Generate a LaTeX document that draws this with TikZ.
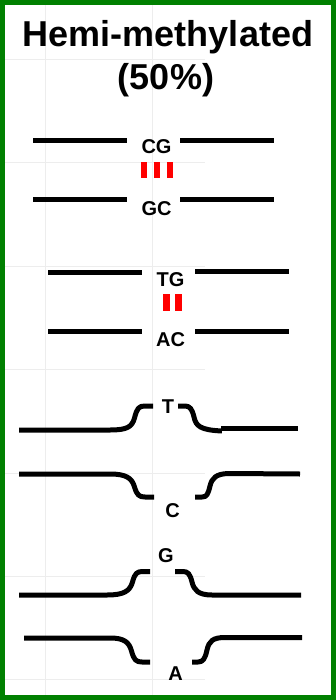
\documentclass[tikz,border=0pt]{standalone}
\usepackage{fontspec}
\setmainfont{Liberation Sans}
\begin{document}
\begin{tikzpicture}[x=1pt,y=-1pt,
  strand/.style={line width=5pt,black,line cap=butt,line join=round},
  hbond/.style={fill=red,draw=none},
  gridln/.style={line width=1pt,black!7},
  frame/.style={line width=5pt,draw={rgb,255:red,0;green,128;blue,0}},
  base/.style={font=\bfseries\fontsize{20}{24}\selectfont,inner sep=0pt,anchor=base},
  title/.style={font=\bfseries\fontsize{36}{40}\selectfont,inner sep=0pt,anchor=base}]
\useasboundingbox (0,0) rectangle (336,700);
\fill[white] (0,0) rectangle (336,700);

% faint sheet gridlines
\foreach \gx in {45,152} \draw[gridln] (\gx,5) -- (\gx,695);
\foreach \gy in {60,163,266,369,473,576,679} \draw[gridln] (5,\gy) -- (205,\gy);

% heading
\node[title] (t1) at (168,47) {Hemi-methylated};
\node[title] (t2) at (166,90) {(50\%)};

% CG / GC pair, three hydrogen bonds
\draw[strand] (33,141) -- (127,141);
\draw[strand] (180,140.5) -- (274,140.5);
\node[base] (cg) at (156.5,154) {CG};
\foreach \bx in {144,157,170} \fill[hbond] (\bx-3,162) rectangle (\bx+3,178);
\draw[strand] (33,200) -- (127,200);
\draw[strand] (180,200) -- (274,200);
\node[base] (gc) at (156.5,216) {GC};

% TG / AC pair, two hydrogen bonds
\draw[strand] (48,272) -- (142,272);
\draw[strand] (195,271.5) -- (289,271.5);
\node[base] (tg) at (170.5,286) {TG};
\foreach \bx in {166.5,178} \fill[hbond] (\bx-3.5,294) rectangle (\bx+3.5,311);
\draw[strand] (48,331) -- (142,331);
\draw[strand] (195,331) -- (289,331);
\node[base] (ac) at (170.5,346) {AC};

% unpaired T over C
\draw[strand] (19,430) -- (110,430)
  .. controls (127,430) and (132,427) .. (134.5,418)
  .. controls (137,408) and (139,406) .. (145,406) -- (153,406);
\draw[strand] (178,406) -- (185,406)
  .. controls (190,406) and (192,409) .. (194,417)
  .. controls (196,426) and (200,430) .. (222,431);
\draw[strand] (221,428.5) -- (298,428.5);
\node[base] (nt) at (168,413) {T};

\draw[strand] (19,474) -- (110,474)
  .. controls (126,474) and (132,478) .. (134.5,487)
  .. controls (137,495) and (139,497) .. (145,497) -- (154,497);
\draw[strand] (195,497) -- (202,497)
  .. controls (207,497) and (208,494) .. (210,486)
  .. controls (212,478) and (216,474) .. (228,473.5) -- (300,474);
\node[base] (nc) at (172.5,517) {C};

% unpaired G over A
\node[base] (ng) at (166,562) {G};
\draw[strand] (19,595) -- (107,595)
  .. controls (124,595) and (130,591) .. (132.5,582)
  .. controls (135,573) and (137,571.5) .. (143,571.5) -- (150,571.5);
\draw[strand] (175,571.5) -- (183,571.5)
  .. controls (188,571.5) and (190,574) .. (192,582)
  .. controls (194,590) and (198,595) .. (212,595) -- (301,595);

\draw[strand] (24,638) -- (110,638)
  .. controls (124,638) and (129,642) .. (131.5,651)
  .. controls (134,660) and (136,662) .. (142,662) -- (150,662);
\draw[strand] (192,662) -- (198,662)
  .. controls (203,662) and (205,659) .. (207,650)
  .. controls (209,641) and (213,637.5) .. (225,637.5) -- (302,637.5);
\node[base] (na) at (175.5,680) {A};

% outer frame
\draw[frame] (2.5,2.5) rectangle (333.5,697.5);
\end{tikzpicture}
\end{document}
